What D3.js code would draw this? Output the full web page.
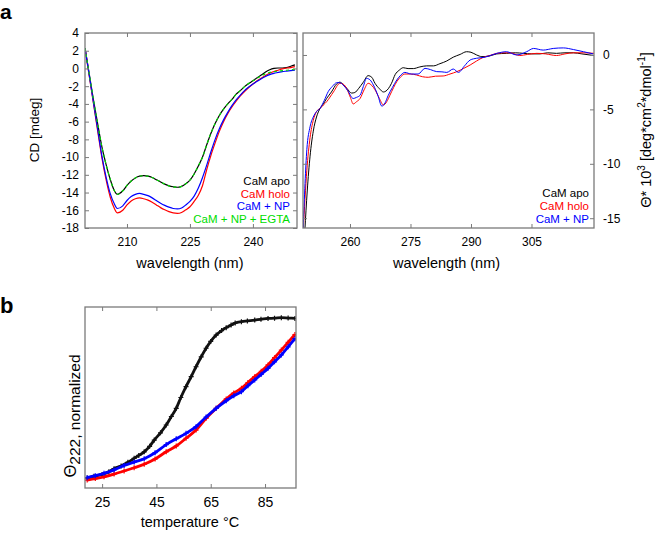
<!DOCTYPE html>
<html><head><meta charset="utf-8">
<script src="https://cdn.jsdelivr.net/npm/d3@7"></script>
<style>
body{margin:0;background:#fff}
svg{display:block}
text{font-family:"Liberation Sans",Arial,Helvetica,sans-serif}
</style>
</head><body>
<svg id="c" width="655" height="533"></svg>
<script>
// ---------- Panel a (left): CD spectra, far UV ----------
const wlLeft = [200,201,202,203,204,205,206,207,207.7,209,210,211,212,213,214,215,216,217,218,219,220,221,222,223,224,225,226,227,228,229,230,231,232,233,234,235,236,237,238,239,240,241,242,243,244,245,246,247,248,249,250];
const apoLeft = [2.3,-0.6,-3.5,-6.2,-8.8,-10.8,-12.5,-13.8,-14.2,-13.8,-13.2,-12.7,-12.35,-12.15,-12.1,-12.15,-12.3,-12.55,-12.8,-13.05,-13.25,-13.35,-13.4,-13.3,-13.0,-12.6,-11.9,-11.0,-10.0,-8.6,-7.3,-6.2,-5.3,-4.6,-4.0,-3.5,-2.9,-2.5,-2.05,-1.7,-1.4,-1.05,-0.75,-0.4,-0.15,0.0,0.05,0.05,0.1,0.25,0.4];
const holoLeft = [2.3,-0.8,-3.9,-7.0,-10.0,-12.5,-14.5,-15.8,-16.3,-16.0,-15.4,-14.95,-14.7,-14.6,-14.7,-14.85,-15.1,-15.4,-15.7,-15.95,-16.15,-16.3,-16.35,-16.25,-15.95,-15.6,-15.0,-14.3,-13.2,-11.4,-9.8,-8.4,-7.1,-6.0,-5.1,-4.35,-3.7,-3.1,-2.6,-2.15,-1.75,-1.4,-1.1,-0.8,-0.55,-0.35,-0.2,-0.05,0.05,0.1,0.2];
const npLeft = [2.3,-0.7,-3.8,-6.8,-9.8,-12.2,-14.1,-15.3,-15.8,-15.5,-14.9,-14.45,-14.2,-14.1,-14.2,-14.35,-14.6,-14.9,-15.2,-15.45,-15.65,-15.8,-15.85,-15.75,-15.4,-15.0,-14.4,-13.5,-12.3,-10.9,-9.4,-8.0,-6.8,-5.8,-4.95,-4.2,-3.55,-3.0,-2.5,-2.1,-1.75,-1.45,-1.15,-0.9,-0.7,-0.55,-0.45,-0.35,-0.3,-0.25,-0.2];
const egtaLeft = [2.3,-0.6,-3.5,-6.2,-8.8,-10.8,-12.5,-13.8,-14.2,-13.8,-13.2,-12.7,-12.35,-12.15,-12.1,-12.15,-12.3,-12.55,-12.8,-13.05,-13.25,-13.35,-13.4,-13.3,-13.0,-12.6,-11.9,-11.0,-10.0,-8.6,-7.3,-6.2,-5.3,-4.6,-4.0,-3.5,-2.9,-2.5,-2.05,-1.7,-1.4,-1.1,-0.85,-0.6,-0.45,-0.35,-0.3,-0.25,-0.2,-0.15,-0.1];
const leftXTicks = [210,225,240];
const leftYTicks = [4,2,0,-2,-4,-6,-8,-10,-12,-14,-16,-18];
const leftLegend = ["CaM apo","CaM holo","CaM + NP","CaM + NP + EGTA"];

// ---------- Panel a (right): near UV, molar ellipticity ----------
const apoRightWl = [248.8,249.4,250.1,250.9,251.7,252.6,253.4,254.2,255.4,256.7,257.5,258.3,259.3,260.4,261.2,262.1,263.3,264.5,265.4,266.2,267.3,268.3,269.5,270.3,271.2,272.2,273.2,274.4,275.7,277.3,279,280.7,282.3,284,285.6,287.3,288.9,290,291.4,292.7,294.5,296.4,298.8,301,303,305,307.1,309,311.2,313.3,315.4,317.5,319.5,320.5];
const apoRight = [-16.2,-12.5,-9.3,-7.0,-5.7,-4.9,-4.5,-4.0,-3.4,-2.65,-2.5,-2.7,-3.1,-3.5,-3.45,-3.1,-2.5,-1.9,-2.05,-2.6,-3.1,-3.4,-3.1,-2.6,-1.8,-1.4,-1.17,-1.25,-1.25,-1.1,-1.0,-1.0,-0.8,-0.55,-0.2,0.05,0.3,0.25,0.0,-0.15,-0.1,0.1,0.15,0.2,0.15,0.1,0.1,0.2,0.15,0.2,0.2,0.1,0.0,-0.05];
const holoRightWl = [248.4,249.3,250.1,250.9,251.7,252.6,253.4,254.2,255.9,257.5,258.4,259.2,260.1,260.8,261.6,262.5,263.5,264.5,265.4,266.2,267.3,268.3,269.1,269.9,270.8,271.6,272.6,273.6,275,276.5,278,279.4,281.2,283.1,284.8,286.5,288.1,289.8,291.4,293.1,294.7,296.4,298.2,299.7,302.1,304,306.3,308.5,311.2,313.3,315.4,317.8,320.5];
const holoRight = [-16.2,-10.6,-7.6,-6.0,-5.2,-4.9,-4.6,-4.3,-3.4,-2.6,-2.7,-3.1,-3.9,-4.5,-4.3,-4.0,-3.2,-2.6,-2.8,-3.2,-4.0,-4.6,-4.3,-3.7,-3.0,-2.45,-2.0,-1.75,-1.75,-1.84,-2.0,-2.05,-1.95,-1.93,-1.75,-1.53,-1.25,-0.92,-0.55,-0.21,-0.05,0.15,0.2,0.2,-0.05,0.05,0.15,0.1,-0.05,0.1,0.2,0.2,0.15];
const npRightWl = [248.4,249.3,250.1,250.9,251.7,252.6,253.6,254.6,255.6,256.7,257.5,258.3,259.5,260.8,261.6,262.5,263.3,264.1,265,265.8,266.9,267.9,268.7,269.5,270.5,271.6,272.6,273.6,275.2,276.9,278.6,280,281.5,282.8,284,285.6,286.9,288.4,289.8,291.4,293.5,296.4,298.8,301.3,303.8,305.5,307.9,310.4,312.9,315.4,317.9,320.3];
const npRight = [-15.9,-8.7,-6.6,-5.7,-5.2,-4.9,-4.2,-3.37,-2.9,-2.55,-2.55,-2.76,-3.3,-4.0,-3.9,-3.7,-2.9,-2.15,-2.3,-2.76,-3.7,-4.7,-4.4,-3.7,-3.0,-2.3,-1.85,-1.6,-1.75,-1.75,-1.23,-1.35,-1.53,-1.55,-1.6,-1.29,-1.6,-1.0,-0.46,-0.3,-0.2,0.15,0.3,0.0,0.3,0.6,0.45,0.6,0.65,0.5,0.3,0.1];
const rightXTicks = [260,275,290,305];
const rightYTicks = [0,-5,-10,-15];
const rightLegend = ["CaM apo","CaM holo","CaM + NP"];

// ---------- Panel b: thermal melts at 222 nm ----------
const tempApo = [19.5,22,25,27.5,29.4,32,34.5,36.8,38.5,40.5,42.5,44.2,46.5,48.6,50.5,52.3,54,55.9,57.8,59.6,61.5,63.3,65,67,69,70.7,72.5,74,76.3,78.5,81.2,83.5,86.1,88.5,91,93.5,96];
const meltApo = [0.055,0.065,0.075,0.09,0.107,0.122,0.142,0.164,0.18,0.2,0.23,0.265,0.305,0.348,0.395,0.44,0.5,0.56,0.615,0.67,0.725,0.772,0.81,0.845,0.87,0.886,0.9,0.912,0.919,0.923,0.928,0.932,0.937,0.938,0.941,0.939,0.937];
const tempHolo = [19.5,22.5,25.7,29.4,33.1,36.8,40.5,44.5,48.6,52.3,55.9,59.6,63.3,67,70.7,73.5,76.3,78.7,81.2,83.6,86.1,88.5,91,93.5,96];
const meltHolo = [0.044,0.052,0.062,0.077,0.094,0.112,0.131,0.16,0.2,0.232,0.275,0.32,0.385,0.44,0.492,0.525,0.551,0.583,0.615,0.645,0.68,0.72,0.762,0.805,0.848];
const tempNP = [19.5,22.5,25.7,29.4,33.1,36.8,40.5,44.5,48.6,52.3,55.9,59.6,63.3,67,70.7,73.5,76.3,78.7,81.2,83.6,86.1,88.5,91,93.5,96];
const meltNP = [0.057,0.068,0.081,0.1,0.125,0.143,0.162,0.195,0.24,0.272,0.302,0.339,0.392,0.44,0.482,0.51,0.532,0.565,0.597,0.628,0.661,0.697,0.735,0.78,0.825];
const bXTicks = [25,45,65,85];

const colors = {apo:"#000000", holo:"#ff0000", np:"#0000ff", egta:"#00dd00"};
const frameColor = "#7a7a7a";

const svg = d3.select("#c");
const zip = (xs, ys) => xs.map((x,i)=>[x, ys[i]]);

// scales
const xL = d3.scaleLinear().domain([200,250.5]).range([85,297]);
const yL = d3.scaleLinear().domain([-18,4]).range([228,33]);
const xR = d3.scaleLinear().domain([248.35,320.5]).range([303,594]);
const yR = d3.scaleLinear().domain([-15.9,2.02]).range([228,33]);
const xB = d3.scaleLinear().domain([18.7,96.4]).range([85,296]);
const yB = d3.scaleLinear().domain([0,1]).range([488,307]);

function frame(x, y, xt, yt, o) {
  const [X0,X1] = x.range(), [Y0,Y1] = y.range();
  const g = svg.append("g");
  const fmt = d => String(d);
  const fs = o.fs || 12;
  const bot = g.append("g").attr("transform",`translate(0,${Y0})`)
    .call(d3.axisBottom(x).tickValues(xt).tickSize(-4).tickPadding(o.xpad||9).tickFormat(fmt));
  bot.selectAll("text").style("font-size", fs+"px").attr("fill","#000");
  g.append("g").attr("transform",`translate(0,${Y1})`)
    .call(d3.axisTop(x).tickValues(xt).tickSize(-4).tickFormat(""));
  if (yt) {
    const lg = g.append("g").attr("transform",`translate(${X0},0)`)
      .call(d3.axisLeft(y).tickValues(yt).tickSize(-4).tickPadding(6).tickFormat(o.ylab==="left"?fmt:""));
    lg.selectAll("text").style("font-size", fs+"px").attr("fill","#000");
    const rg = g.append("g").attr("transform",`translate(${X1},0)`)
      .call(d3.axisRight(y).tickValues(yt).tickSize(-4).tickPadding(9).tickFormat(o.ylab==="right"?fmt:""));
    rg.selectAll("text").style("font-size", fs+"px").attr("fill","#000");
  }
  g.selectAll(".domain").remove();
  g.selectAll(".tick line").attr("stroke", frameColor).attr("stroke-width",1);
  g.append("rect").attr("x",X0).attr("y",Y1).attr("width",X1-X0).attr("height",Y0-Y1)
    .attr("fill","none").attr("stroke",frameColor).attr("stroke-width",1.3);
}

function clip(id, x, y) {
  const [X0,X1] = x.range(), [Y0,Y1] = y.range();
  svg.append("clipPath").attr("id",id).append("rect")
    .attr("x",X0).attr("y",Y1).attr("width",X1-X0).attr("height",Y0-Y1);
  return svg.append("g").attr("clip-path",`url(#${id})`);
}

// ----- left panel -----
const gL = clip("cl", xL, yL);
const lineL = d3.line().x(d=>xL(d[0])).y(d=>yL(d[1])).curve(d3.curveMonotoneX);
[[apoLeft,colors.apo,null],[holoLeft,colors.holo,null],[npLeft,colors.np,null],[egtaLeft,colors.egta,"3,3"]].forEach(([v,c,dash])=>{
  gL.append("path").datum(zip(wlLeft,v)).attr("d",lineL).attr("fill","none")
    .attr("stroke",c).attr("stroke-width",1.2).attr("stroke-dasharray",dash);
});
frame(xL, yL, leftXTicks, leftYTicks, {ylab:"left", fs:12});
const legColL = [colors.apo, colors.holo, colors.np, colors.egta];
leftLegend.forEach((t,i)=>{
  svg.append("text").attr("x",290).attr("y",185+i*12.6).attr("text-anchor","end")
    .style("font-size","11.5px").attr("fill",legColL[i]).text(t);
});
svg.append("text").attr("x",xL(225)).attr("y",268).attr("text-anchor","middle")
  .style("font-size","14.5px").text("wavelength (nm)");
svg.append("text").attr("transform","translate(39,130) rotate(-90)").attr("text-anchor","middle")
  .style("font-size","13.5px").text("CD [mdeg]");

// ----- right panel -----
const gR = clip("cr", xR, yR);
const lineR = d3.line().x(d=>xR(d[0])).y(d=>yR(d[1])).curve(d3.curveMonotoneX);
[[apoRightWl,apoRight,colors.apo],[holoRightWl,holoRight,colors.holo],[npRightWl,npRight,colors.np]].forEach(([w,v,c])=>{
  gR.append("path").datum(zip(w,v)).attr("d",lineR).attr("fill","none")
    .attr("stroke",c).attr("stroke-width",1);
});
frame(xR, yR, rightXTicks, rightYTicks, {ylab:"right", fs:12});
const legColR = [colors.apo, colors.holo, colors.np];
rightLegend.forEach((t,i)=>{
  svg.append("text").attr("x",589).attr("y",197+i*13).attr("text-anchor","end")
    .style("font-size","11.5px").attr("fill",legColR[i]).text(t);
});
svg.append("text").attr("x",(303+594)/2 - 2).attr("y",268).attr("text-anchor","middle")
  .style("font-size","14.5px").text("wavelength (nm)");
const rt = svg.append("text").attr("transform","translate(651,130) rotate(-90)").attr("text-anchor","middle")
  .style("font-size","14.5px");
rt.append("tspan").text("\u0398* 10");
rt.append("tspan").attr("dy",-6).style("font-size","10px").text("3");
rt.append("tspan").attr("dy",6).text(" [deg*cm");
rt.append("tspan").attr("dy",-6).style("font-size","10px").text("2");
rt.append("tspan").attr("dy",6).text("*dmol");
rt.append("tspan").attr("dy",-6).style("font-size","10px").text("-1");
rt.append("tspan").attr("dy",6).text("]");

// ----- panel b -----
const gB = clip("cb", xB, yB);
const lineB = d3.line().x(d=>xB(d[0])).y(d=>yB(d[1])).curve(d3.curveMonotoneX);
[[tempApo,meltApo,"#111"],[tempHolo,meltHolo,colors.holo],[tempNP,meltNP,colors.np]].forEach(([t,v,c])=>{
  const pts = zip(t,v);
  gB.append("path").datum(pts).attr("d",lineB).attr("fill","none")
    .attr("stroke",c).attr("stroke-width",2.8);
  gB.append("g").selectAll("path").data(pts).join("path")
    .attr("d",d=>{const px=xB(d[0]), py=yB(d[1]); return `M${px-2.5},${py}h5M${px},${py-2.5}v5`;})
    .attr("stroke",c).attr("stroke-width",1.2);
});
frame(xB, yB, bXTicks, null, {fs:14, xpad:9});
svg.append("text").attr("x",190).attr("y",527).attr("text-anchor","middle")
  .style("font-size","14.5px").text("temperature \u00B0C");
const bt = svg.append("text").attr("transform","translate(76,416) rotate(-90)").attr("text-anchor","middle")
  .style("font-size","16.5px");
bt.append("tspan").text("\u0398");
bt.append("tspan").attr("dy",4).style("font-size","15.5px").text("222, normalized");

// panel letters
svg.append("text").attr("x",0).attr("y",19).style("font-size","21px").style("font-weight","bold").text("a");
svg.append("text").attr("x",0).attr("y",313).style("font-size","22px").style("font-weight","bold").text("b");
</script>
</body></html>
